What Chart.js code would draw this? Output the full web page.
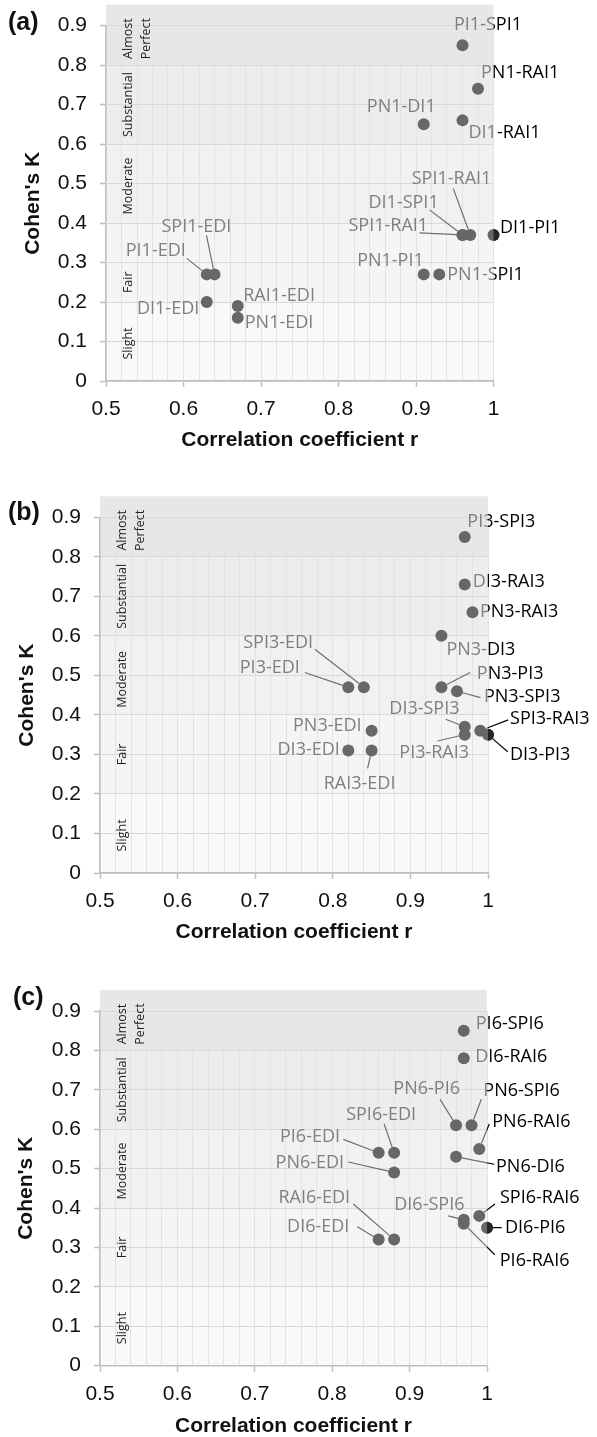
<!DOCTYPE html>
<html>
<head>
<meta charset="utf-8">
<script src="https://cdn.jsdelivr.net/npm/chart.js@4.4.0/dist/chart.umd.min.js"></script>
<style>
  html, body { margin: 0; padding: 0; background: #fff; }
  canvas { display: block; }
</style>
</head>
<body>
<canvas id="chartA" width="597" height="470"></canvas>
<canvas id="chartB" width="597" height="480"></canvas>
<canvas id="chartC" width="597" height="487"></canvas>
<script>
// panel (a)
const namesA = ['PI1-SPI1', 'PN1-RAI1', 'PN1-DI1', 'DI1-RAI1', 'SPI1-RAI1', 'DI1-SPI1', 'SPI1-RAI1', 'DI1-PI1',
  'PN1-PI1', 'PN1-SPI1', 'SPI1-EDI', 'PI1-EDI', 'DI1-EDI', 'RAI1-EDI', 'PN1-EDI'];
const rA = [0.96, 0.98, 0.91, 0.96, 0.97, 0.96, 0.96, 1.0, 0.91, 0.93, 0.64, 0.63, 0.63, 0.67, 0.67];
const kA = [0.85, 0.74, 0.65, 0.66, 0.37, 0.37, 0.37, 0.37, 0.27, 0.27, 0.27, 0.27, 0.20, 0.19, 0.16];

// panel (b)
const namesB = ['PI3-SPI3', 'DI3-RAI3', 'PN3-RAI3', 'PN3-DI3', 'PN3-PI3', 'PN3-SPI3', 'DI3-SPI3', 'PI3-RAI3',
  'SPI3-RAI3', 'DI3-PI3', 'SPI3-EDI', 'PI3-EDI', 'PN3-EDI', 'DI3-EDI', 'RAI3-EDI'];
const rB = [0.97, 0.97, 0.98, 0.94, 0.94, 0.96, 0.97, 0.97, 0.99, 1.0, 0.84, 0.82, 0.85, 0.82, 0.85];
const kB = [0.85, 0.73, 0.66, 0.60, 0.47, 0.46, 0.37, 0.35, 0.36, 0.35, 0.47, 0.47, 0.36, 0.31, 0.31];

// panel (c)
const namesC = ['PI6-SPI6', 'DI6-RAI6', 'PN6-PI6', 'PN6-SPI6', 'PN6-RAI6', 'PN6-DI6', 'SPI6-EDI', 'PI6-EDI',
  'PN6-EDI', 'RAI6-EDI', 'DI6-EDI', 'DI6-SPI6', 'SPI6-RAI6', 'DI6-PI6', 'PI6-RAI6'];
const rC = [0.97, 0.97, 0.96, 0.98, 0.99, 0.96, 0.88, 0.86, 0.88, 0.88, 0.86, 0.97, 0.99, 1.0, 0.97];
const kC = [0.85, 0.78, 0.61, 0.61, 0.55, 0.53, 0.54, 0.54, 0.49, 0.32, 0.32, 0.37, 0.38, 0.35, 0.36];

// agreement bands (Landis & Koch)
const bandNames = [['Slight'], ['Fair'], ['Moderate'], ['Substantial'], ['Almost', 'Perfect']];
const bandEdges = [0, 0.2, 0.4, 0.6, 0.8, 0.9];
const bandColors = ['#f9f9f9', '#f5f5f5', '#f1f1f1', '#ededed', '#e7e7e7'];

// label placement: [dx, dy, align, leaderX, leaderY] relative to the point
const labA = [[-8.5, -20, 'left'], [3, -16, 'left'], [-22.5, -17, 'center'], [6, 13, 'left'],
  [-58.5, -56.5, 'left', -17, -46.5], [-94, -32, 'left', -33, -25], [-114, -9, 'left', -43, -2],
  [6.5, -7, 'left'], [0, -14, 'right'], [8, 0, 'left'], [-53, -48, 'left', -8, -39],
  [-81, -24, 'left', -20, -16], [-7.5, 7, 'right'], [5.5, -10, 'left'], [7, 5.5, 'left']];
const labB = [[2.6, -15.5, 'left'], [8, -2.6, 'left'], [7.5, 0, 'left'], [5, 14, 'left'],
  [35.4, -13.4, 'left', 28.8, -14.7], [27, 6, 'left', 23.6, 6.4], [-75.4, -17.5, 'left', -19, -7.5],
  [-65.4, 18.5, 'left', -27.4, 6.3], [29.8, -12, 'left', 28, -10.8], [22, 20, 'left', 19.7, 17],
  [-50.7, -44.6, 'right', -49, -38], [-48.5, -19.7, 'right', -43.5, -14.7], [-10, -5, 'right'],
  [-8.5, -1, 'right'], [-12, 33, 'center', -4, 17.8]];
const labC = [[12, -6.7, 'left'], [11.5, -1, 'left'], [-62.7, -36, 'left', -16, -26],
  [11.8, -34.6, 'left', 9.8, -26], [13, -26.6, 'left', 10, -24.9], [40, 10, 'left', 38.3, 7.5],
  [-13, -37.5, 'center', -10, -28.8], [-38.6, -15.5, 'right', -35.3, -13.5],
  [-50, -9.2, 'right', -45.8, -10.5], [-44, -41.2, 'right', -40.8, -35.5],
  [-29.3, -12.2, 'right', -21.3, -12.8], [-69.5, -14.8, 'left', -15.5, -4],
  [20.7, -17.6, 'left', 15.7, -11.9], [18, 0, 'left', 14.7, 0], [36, 37, 'left', 31, 31]];

const AXIS_FONT = '"Liberation Sans", Arial, sans-serif';
const LABEL_FONT = '18px "Open Sans", sans-serif';
const PT_R = 6;
const TOP_EXTRA = 21;

function kappaPlugin(P) {
  return {
    id: 'kappa',
    beforeDraw(chart) {
      const ctx = chart.ctx, ca = chart.chartArea, y = chart.scales.y;
      ctx.save();
      for (let i = 0; i < bandColors.length; i++) {
        let top = y.getPixelForValue(bandEdges[i + 1]);
        const bot = y.getPixelForValue(bandEdges[i]);
        if (i === bandColors.length - 1) top -= TOP_EXTRA;
        ctx.fillStyle = bandColors[i];
        ctx.fillRect(ca.left, top, ca.right - ca.left, bot - top);
      }
      ctx.restore();
    },
    beforeDatasetsDraw(chart) {
      const ctx = chart.ctx, ca = chart.chartArea, y = chart.scales.y;
      ctx.save();
      ctx.fillStyle = '#1e1e1e';
      ctx.font = '12.5px "Open Sans", sans-serif';
      ctx.textAlign = 'center';
      ctx.textBaseline = 'middle';
      bandNames.forEach((lines, i) => {
        const py = y.getPixelForValue(P.bandK[i]);
        lines.forEach((t, j) => {
          ctx.save();
          ctx.translate(ca.left + 22.5 + j * 18, py);
          ctx.rotate(-Math.PI / 2);
          ctx.fillText(t, 0, 0);
          ctx.restore();
        });
      });
      ctx.restore();
    },
    afterDatasetsDraw(chart) {
      const ctx = chart.ctx, ca = chart.chartArea;
      const pts = chart.getDatasetMeta(0).data;
      const inner = [ca.left, ca.top - TOP_EXTRA, ca.right - ca.left, ca.bottom - ca.top + TOP_EXTRA];
      const pass = (inside) => {
        ctx.save();
        ctx.beginPath();
        if (inside) {
          ctx.rect(...inner);
          ctx.clip();
        } else {
          ctx.rect(0, 0, chart.width, chart.height);
          ctx.rect(...inner);
          ctx.clip('evenodd');
        }
        const col = inside ? '#7f7f7f' : '#000';
        if (!inside) {
          // dark part of markers that stick out of the plot area
          ctx.fillStyle = '#262626';
          pts.forEach(p => { ctx.beginPath(); ctx.arc(p.x, p.y, PT_R, 0, Math.PI * 2); ctx.fill(); });
        }
        ctx.strokeStyle = inside ? '#6f6f6f' : '#000';
        ctx.lineWidth = 1.2;
        ctx.fillStyle = col;
        ctx.font = LABEL_FONT;
        ctx.textBaseline = 'middle';
        pts.forEach((p, i) => {
          const L = P.lab[i];
          if (L.length > 3) {
            const sx = p.x + L[3], sy = p.y + L[4];
            const d = Math.hypot(sx - p.x, sy - p.y);
            const ex = p.x + (sx - p.x) * PT_R / d, ey = p.y + (sy - p.y) * PT_R / d;
            ctx.beginPath();
            ctx.moveTo(sx, sy);
            ctx.lineTo(ex, ey);
            ctx.stroke();
          }
          ctx.textAlign = L[2];
          ctx.fillText(P.names[i], p.x + L[0], p.y + L[1]);
        });
        ctx.restore();
      };
      pass(true);
      pass(false);
    },
    afterDraw(chart) {
      const ctx = chart.ctx;
      ctx.save();
      ctx.fillStyle = '#111';
      ctx.font = 'bold 25px ' + AXIS_FONT;
      ctx.textAlign = 'left';
      ctx.textBaseline = 'middle';
      ctx.fillText(P.letter, P.letterX, P.letterY);
      ctx.restore();
    }
  };
}

function isMajor(v) {
  return Math.abs(v * 10 - Math.round(v * 10)) < 1e-6;
}

function makePanel(id, P) {
  const canvas = document.getElementById(id);
  const H = canvas.height;
  return new Chart(canvas, {
    type: 'scatter',
    data: {
      datasets: [{
        data: P.r.map((v, i) => ({ x: v, y: P.k[i] })),
        pointRadius: PT_R,
        pointHoverRadius: PT_R,
        pointBackgroundColor: '#676767',
        pointBorderWidth: 0,
        clip: false
      }]
    },
    options: {
      responsive: false,
      animation: false,
      events: [],
      layout: { padding: { left: 0, top: P.top, right: 597 - P.right, bottom: 0 } },
      plugins: { legend: { display: false }, tooltip: { enabled: false } },
      scales: {
        x: {
          type: 'linear',
          min: 0.5,
          max: 1,
          afterFit: s => { s.height = H - P.bottom; },
          ticks: {
            stepSize: 0.02,
            autoSkip: false,
            maxRotation: 0,
            padding: 10,
            color: '#111',
            font: { family: AXIS_FONT, size: 21 },
            callback: v => isMajor(v) ? String(Math.round(v * 10) / 10) : ''
          },
          grid: {
            color: '#e3e3e3',
            tickLength: 6,
            tickWidth: 1.5,
            tickColor: c => isMajor(c.tick.value) ? '#bfbfbf' : 'rgba(0,0,0,0)'
          },
          border: { color: '#bfbfbf', width: 1.5 },
          title: {
            display: true,
            text: 'Correlation coefficient r',
            color: '#111',
            font: { family: AXIS_FONT, size: 21, weight: 'bold', lineHeight: 1 },
            padding: { top: 0, bottom: P.xtPad }
          }
        },
        y: {
          min: 0,
          max: 0.9,
          afterFit: s => { s.width = P.left; },
          ticks: {
            stepSize: 0.1,
            padding: 13,
            color: '#111',
            font: { family: AXIS_FONT, size: 21 },
            callback: v => String(Math.round(v * 10) / 10)
          },
          grid: { color: '#d9d9d9', tickLength: 6, tickWidth: 1.5, tickColor: '#bfbfbf' },
          border: { color: '#bfbfbf', width: 1.5 },
          title: {
            display: true,
            text: "Cohen's K",
            color: '#111',
            font: { family: AXIS_FONT, size: 21, weight: 'bold', lineHeight: 1 },
            padding: { top: P.ytPad, bottom: 0 }
          }
        }
      }
    },
    plugins: [kappaPlugin(P)]
  });
}

makePanel('chartA', {
  names: namesA, r: rA, k: kA, lab: labA,
  top: 25, bottom: 381, left: 106, right: 493.5, ytPad: 22.5, xtPad: 19.5,
  letter: '(a)', letterX: 8, letterY: 23, bandK: [0.095, 0.25, 0.494, 0.70, 0.867]
});
makePanel('chartB', {
  names: namesB, r: rB, k: kB, lab: labB,
  top: 47.3, bottom: 403, left: 100, right: 488, ytPad: 16.5, xtPad: 7.5,
  letter: '(b)', letterX: 8, letterY: 43, bandK: [0.095, 0.30, 0.49, 0.70, 0.867]
});
makePanel('chartC', {
  names: namesC, r: rC, k: kC, lab: labC,
  top: 61, bottom: 415.6, left: 100, right: 487, ytPad: 15.5, xtPad: 0,
  letter: '(c)', letterX: 13, letterY: 48, bandK: [0.095, 0.30, 0.494, 0.70, 0.867]
});
</script>
</body>
</html>
